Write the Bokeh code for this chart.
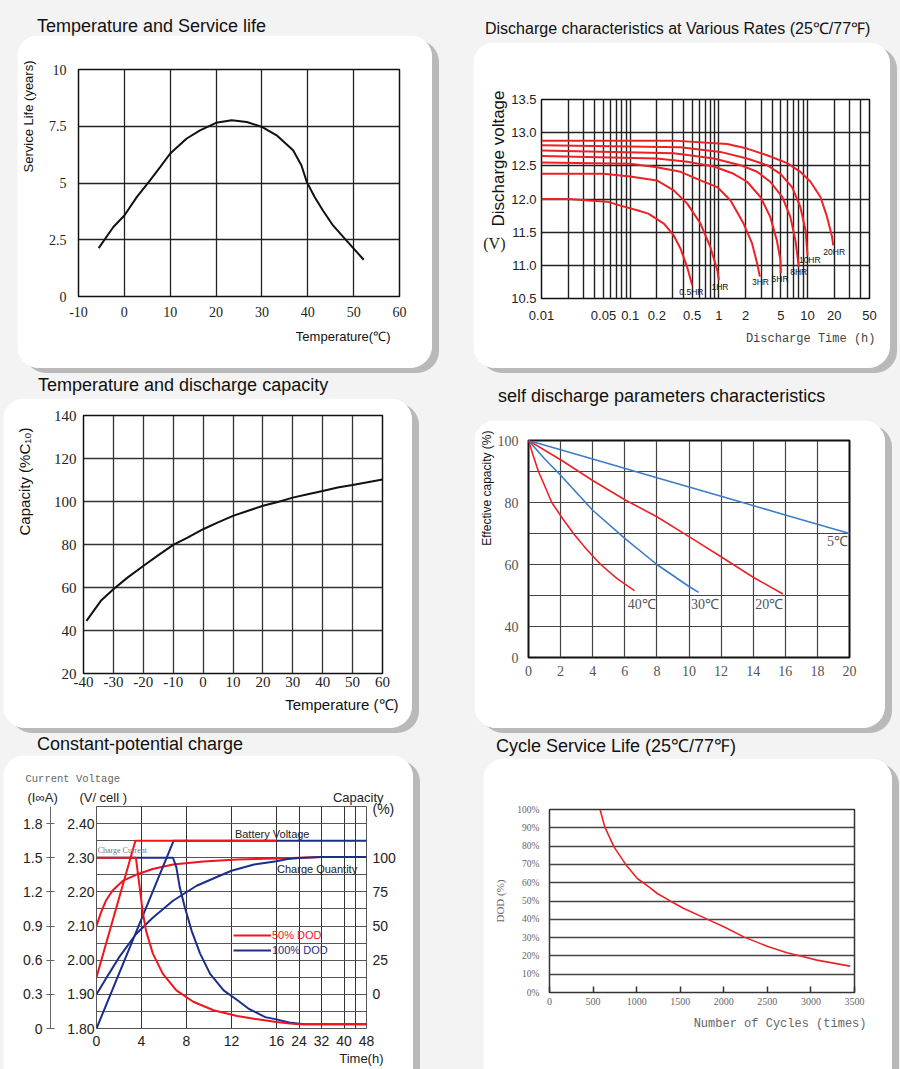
import numpy as np
from bokeh.plotting import figure
from bokeh.models import (Range1d, LinearAxis, FixedTicker, Title, Div, Legend, Label,
                          LegendItem, GlobalInlineStyleSheet, CustomJSTickFormatter,
                          PrintfTickFormatter)
from bokeh.layouts import row, column
from bokeh.embed import file_html
from bokeh.resources import INLINE
from bokeh.core.properties import value

SANS = "Liberation Sans"
SERIF = "Liberation Serif"
MONO = "Liberation Mono"
RED = "#ec2227"
RED5 = "#f0141e"
NAVY = "#1c2e8c"
LBLUE = "#3d7cc9"
NBSP = "\u00a0"

# ---------------- data ----------------
# 1. Temperature and service life
life_temp = [-5.6, -2.4, 0, 2.7, 5.3, 7.8, 10, 13.6, 16.5, 20, 23.4, 26.7, 30, 33.2, 36.8, 38.6, 39.8, 41.5, 43.3, 45.5, 48.4, 52.2]
life_years = [2.13, 3.06, 3.57, 4.38, 5.04, 5.7, 6.3, 6.96, 7.32, 7.65, 7.76, 7.69, 7.47, 7.1, 6.44, 5.78, 5.04, 4.38, 3.79, 3.13, 2.47, 1.62]
life_xticks = [-10, 0, 10, 20, 30, 40, 50, 60]
life_yticks = [0, 2.5, 5, 7.5, 10]

# 2. Discharge characteristics at various rates
rate_names = ["0.5HR", "1HR", "3HR", "5HR", "8HR", "10HR", "20HR"]
t_05 = [0.01, 0.02, 0.055, 0.078, 0.12, 0.16, 0.24, 0.31, 0.37, 0.44, 0.50]
v_05 = [12.0, 12.0, 11.96, 11.90, 11.83, 11.78, 11.63, 11.45, 11.25, 10.97, 10.70]
t_1 = [0.01, 0.05, 0.1, 0.2, 0.31, 0.44, 0.62, 0.8, 0.96, 1.0]
v_1 = [12.38, 12.38, 12.34, 12.28, 12.13, 11.93, 11.63, 11.28, 10.93, 10.78]
t_3 = [0.01, 0.1, 0.2, 0.37, 0.62, 0.96, 1.35, 1.9, 2.37, 2.7, 2.9]
v_3 = [12.55, 12.53, 12.48, 12.41, 12.28, 12.18, 11.98, 11.63, 11.33, 11.03, 10.83]
t_5 = [0.01, 0.2, 0.44, 0.88, 1.47, 2.08, 2.95, 3.8, 4.5, 4.95, 5.0]
v_5 = [12.65, 12.61, 12.56, 12.49, 12.38, 12.26, 12.03, 11.73, 11.38, 11.08, 10.88]
t_8 = [0.01, 0.31, 0.88, 1.75, 2.7, 3.8, 5.2, 6.4, 7.3, 7.8, 8.0]
v_8 = [12.73, 12.69, 12.61, 12.51, 12.41, 12.26, 12.03, 11.73, 11.38, 11.08, 10.98]
t_10 = [0.01, 0.37, 1.04, 2.08, 3.5, 4.95, 6.7, 8.3, 9.5, 9.9, 10.0]
v_10 = [12.81, 12.78, 12.71, 12.61, 12.51, 12.38, 12.18, 11.88, 11.53, 11.23, 11.15]
t_20 = [0.01, 0.31, 1.24, 2.08, 3.5, 5.9, 8.3, 10.8, 14.0, 16.6, 18.9, 19.5]
v_20 = [12.88, 12.88, 12.83, 12.76, 12.66, 12.54, 12.41, 12.26, 12.03, 11.73, 11.43, 11.3]
rate_label_t = [0.49, 1.03, 2.95, 4.9, 7.95, 10.6, 20.0]
rate_label_v = [10.6, 10.68, 10.75, 10.8, 10.9, 11.08, 11.2]
dis_xticks = [0.01, 0.05, 0.1, 0.2, 0.5, 1, 2, 5, 10, 20, 50]
dis_yticks = [10.5, 11.0, 11.5, 12.0, 12.5, 13.0, 13.5]
volt_unit_at = 11.33

# 3. Temperature and discharge capacity
cap_temp = [-39, -34.2, -30, -25.3, -19.9, -15.3, -10, -5.2, 0, 4.8, 10, 14.8, 20, 25, 30, 35, 40, 45, 50, 55, 60]
cap_pct = [44.5, 53.8, 59.2, 64.6, 70.1, 74.7, 79.8, 83.2, 87.1, 90.2, 93.3, 95.6, 98.0, 99.8, 101.8, 103.4, 104.9, 106.5, 107.7, 109.0, 110.2]
cap_xticks = [-40, -30, -20, -10, 0, 10, 20, 30, 40, 50, 60]
cap_yticks = [20, 40, 60, 80, 100, 120, 140]

# 4. Self discharge
sd5_t = [0, 4, 8, 12, 16, 20]
sd5_c = [100, 94, 88, 82, 76, 70]
sd20_t = [0, 2, 4, 6, 8, 10, 12, 14, 15.85]
sd20_c = [100, 93.8, 87.1, 80.9, 75.4, 69, 62.5, 55.9, 50.5]
sd30_t = [0, 1, 2, 4, 6, 8, 10, 10.6]
sd30_c = [100, 94.1, 88.8, 77.5, 68.4, 60, 52.9, 51]
sd40_t = [0, 0.3, 0.62, 1.0, 1.45, 2.1, 2.8, 3.6, 4.5, 5.5, 6.6]
sd40_c = [100, 95, 90, 85.5, 80, 75, 70, 65, 60, 55.5, 51.6]
sd_names = ["40℃", "30℃", "20℃", "5℃"]
sd_label_t = [7.06, 11.0, 15.0, 19.25]
sd_label_c = [47.2, 47.2, 47.2, 67.3]
sd_xticks = [0, 2, 4, 6, 8, 10, 12, 14, 16, 18, 20]
sd_yticks = [30, 40, 60, 80, 100]
sd_ytick_labels = ["0", "40", "60", "80", "100"]

# 5. Constant-potential charge (time in hours)
volt50_t = [0, 3.46, 16]
volt50_v = [1.95, 2.35, 2.35]
volt100_t = [0, 6.86, 48]
volt100_v = [1.80, 2.35, 2.35]
cur50_t = [0, 3.5, 3.8, 4.1, 4.4, 5.0, 5.9, 7.1, 8.6, 10.4, 12.5, 14, 16, 20, 24, 48]
cur50_a = [1.5, 1.5, 1.27, 1.03, 0.86, 0.66, 0.48, 0.335, 0.235, 0.16, 0.11, 0.085, 0.058, 0.045, 0.038, 0.038]
cur100_t = [0, 6.8, 7.1, 7.4, 7.85, 8.45, 9.2, 10.1, 11.3, 12.5, 13.5, 15, 16, 20.4, 25.8, 48]
cur100_a = [1.5, 1.5, 1.415, 1.24, 1.065, 0.86, 0.66, 0.48, 0.335, 0.25, 0.175, 0.10, 0.08, 0.053, 0.038, 0.038]
q50_t = [0, 0.4, 0.83, 1.43, 2.33, 3.5, 5.0, 6.8, 9.5, 12.5, 16, 24, 32, 48]
q50_p = [50, 60, 68.5, 76, 83, 87.5, 91.8, 95, 97.3, 98.7, 99.5, 100, 100.5, 100.5]
q100_t = [0, 1.1, 2.0, 3.5, 5.0, 6.8, 8.9, 11.0, 12.0, 14.0, 16, 20, 24, 32, 48]
q100_p = [0, 15, 27, 44, 56, 68.5, 79.5, 87, 90.5, 95, 97.5, 99, 99.8, 100.5, 100.5]
time_ticks_h = [0, 4, 8, 12, 16, 24, 32, 40, 48]
time_grid_h = [0, 4, 8, 12, 16, 24, 32, 40, 44, 48]
volt_ticks = [1.80, 1.90, 2.00, 2.10, 2.20, 2.30, 2.40]
cur_ticks = [0, 0.3, 0.6, 0.9, 1.2, 1.5, 1.8]
capq_ticks = [0, 25, 50, 75, 100]
capq_unit_at = 136

# 6. Cycle service life
cyc_n = [580, 634, 740, 874, 1008, 1141, 1237, 1389, 1542, 1809, 2000, 2229, 2496, 2725, 2916, 3069, 3450]
cyc_dod = [100, 90.5, 79.6, 70, 62.3, 57.7, 54.1, 49.9, 45.9, 40.1, 35.9, 30.4, 25.3, 21.7, 19.5, 17.7, 14.4]
cyc_xticks = [0, 500, 1000, 1500, 2000, 2500, 3000, 3500]
cyc_yticks = [0, 10, 20, 30, 40, 50, 60, 70, 80, 90, 100]

# ---------------- helpers ----------------
PLAIN = CustomJSTickFormatter(code="return tick.toString();")


def card(width, height, left, right, top, bottom, margin, radius="22px", **kw):
    style = {"border-radius": radius, "overflow": "hidden",
             "box-shadow": "7px 5px 0px 0px #b9b9b9"}
    p = figure(width=width, height=height, output_backend="svg", toolbar_location=None,
               min_border_left=left, min_border_right=right, min_border_top=top,
               min_border_bottom=bottom, margin=margin, styles=style, **kw)
    p.border_fill_color = "white"
    p.background_fill_color = "white"
    p.outline_line_color = "#111111"
    p.outline_line_width = 1.5
    return p


def style_axis(ax, font, size, color, standoff):
    ax.major_label_text_font = font
    ax.major_label_text_font_size = size
    ax.major_label_text_color = color
    ax.major_label_standoff = standoff
    ax.major_tick_out = 0
    ax.major_tick_in = 0
    ax.minor_tick_out = 0
    ax.minor_tick_in = 0
    ax.axis_line_color = None


def spacer_label(ax, size, standoff):
    ax.axis_label = " "
    ax.axis_label_text_font_size = size
    ax.axis_label_standoff = standoff


def title_div(text, pad_left, pad_top, height, size=18, width=450):
    return Div(text=(f'<div style="padding-left:{pad_left}px;padding-top:{pad_top}px;'
                     f'white-space:nowrap;line-height:20px;font-size:{size}px;">{text}</div>'),
               width=width, height=height, margin=(0, 0, 0, 0),
               styles={"font-family": "Liberation Sans, Arial, sans-serif",
                       "color": "#111", "overflow": "visible"})


def add_title(p, text, side, font, size, color, offset=0, standoff=4, align="right"):
    t = Title(text=text, align=align, offset=offset, standoff=standoff,
              text_font=font, text_font_size=size, text_color=color, text_font_style="normal")
    p.add_layout(t, side)
    return t


# ---------------- panel 1 ----------------
p1 = card(415, 333, 61, 33, 34, 72, (0, 18, 0, 17), x_range=Range1d(-10, 60), y_range=Range1d(0, 10))
p1.line(life_temp, life_years, line_color="#111", line_width=2)
p1.xaxis.ticker = FixedTicker(ticks=life_xticks)
p1.xaxis.formatter = PLAIN
p1.yaxis.ticker = FixedTicker(ticks=life_yticks)
p1.yaxis.formatter = PLAIN
style_axis(p1.xaxis[0], SERIF, "14px", "#222", 10)
style_axis(p1.yaxis[0], SERIF, "14px", "#222", 12)
spacer_label(p1.yaxis[0], "7px", 0)
for g in (p1.xgrid[0], p1.ygrid[0]):
    g.grid_line_color = "#222"
    g.grid_line_width = 1.3
add_title(p1, "Service Life (years)", "left", SANS, "13px", "#111", offset=-9, standoff=0)
add_title(p1, "Temperature(℃)", "below", SANS, "13px", "#111", offset=9, standoff=14)

# ---------------- panel 2 ----------------
p2 = card(417, 326, 68, 21, 57, 70, (0, 10, 0, 23), x_axis_type="log",
          x_range=Range1d(0.01, 50), y_range=Range1d(10.5, 13.5))
for tt, vv in [(t_05, v_05), (t_1, v_1), (t_3, v_3), (t_5, v_5), (t_8, v_8), (t_10, v_10), (t_20, v_20)]:
    p2.line(tt, vv, line_color=RED, line_width=2)
p2.text(x=rate_label_t, y=rate_label_v, text=rate_names, text_font=value(SANS),
        text_font_size="8.5px", text_color="#111", text_align="center", text_baseline="middle")
p2.xaxis.ticker = FixedTicker(ticks=dis_xticks)
p2.xaxis.formatter = PLAIN
p2.yaxis.ticker = FixedTicker(ticks=dis_yticks)
p2.yaxis.formatter = PrintfTickFormatter(format="%.1f")
style_axis(p2.xaxis[0], SANS, "13px", "#222", 12)
style_axis(p2.yaxis[0], SANS, "13px", "#222", 5)
grid_minor = [m * 10.0 ** k for k in range(-2, 2) for m in range(1, 10) if m * 10.0 ** k <= 50]
p2.xgrid.ticker = FixedTicker(ticks=grid_minor)
p2.ygrid.ticker = FixedTicker(ticks=dis_yticks)
for g in (p2.xgrid[0], p2.ygrid[0]):
    g.grid_line_color = "#222"
    g.grid_line_width = 1.4
add_title(p2, "Discharge voltage", "left", SANS, "17px", "#111", offset=-9, standoff=2)
add_title(p2, "Discharge Time (h)", "below", MONO, "12px", "#444", offset=-6, standoff=14)
v_axis = LinearAxis(ticker=FixedTicker(ticks=[volt_unit_at]),
                    formatter=CustomJSTickFormatter(code="return '(V)';"))
style_axis(v_axis, SERIF, "16px", "#222", -20)
p2.add_layout(v_axis, "left")

# ---------------- panel 3 ----------------
p3 = card(409, 330, 80, 30, 17, 55, (0, 38, 0, 3), x_range=Range1d(-40, 60), y_range=Range1d(20, 140))
p3.line(cap_temp, cap_pct, line_color="#111", line_width=2)
p3.xaxis.ticker = FixedTicker(ticks=cap_xticks)
p3.xaxis.formatter = PLAIN
p3.yaxis.ticker = FixedTicker(ticks=cap_yticks)
style_axis(p3.xaxis[0], SERIF, "15px", "#222", 3)
style_axis(p3.yaxis[0], SERIF, "15px", "#222", 7)
spacer_label(p3.yaxis[0], "12px", 0)
for g in (p3.xgrid[0], p3.ygrid[0]):
    g.grid_line_color = "#333"
    g.grid_line_width = 1.3
add_title(p3, "Capacity (%C₁₀)", "left", SANS, "15px", "#111", offset=12, standoff=2)
add_title(p3, "Temperature (℃)", "below", SANS, "15px", "#111", offset=-16, standoff=8)

# ---------------- panel 4 ----------------
p4 = card(411, 308, 54, 36, 20, 71, (0, 15, 0, 24), x_range=Range1d(0, 20), y_range=Range1d(30, 100))
p4.line(sd5_t, sd5_c, line_color=LBLUE, line_width=1.6)
p4.line(sd20_t, sd20_c, line_color=RED, line_width=1.6)
p4.line(sd30_t, sd30_c, line_color=LBLUE, line_width=1.6)
p4.line(sd40_t, sd40_c, line_color=RED, line_width=1.6)
p4.text(x=sd_label_t, y=sd_label_c, text=sd_names, text_font=value(SERIF), text_font_size="14px",
        text_color="#555", text_align="center", text_baseline="middle")
p4.xaxis.ticker = FixedTicker(ticks=sd_xticks)
p4.yaxis.ticker = FixedTicker(ticks=sd_yticks)
p4.yaxis.major_label_overrides = {int(k): v for k, v in zip(sd_yticks, sd_ytick_labels)}
p4.ygrid.ticker = FixedTicker(ticks=[30, 40, 50, 60, 70, 80, 90, 100])
style_axis(p4.xaxis[0], SERIF, "14px", "#555", 8)
style_axis(p4.yaxis[0], SERIF, "14px", "#555", 10)
for g in (p4.xgrid[0], p4.ygrid[0]):
    g.grid_line_color = "#444"
    g.grid_line_width = 1.2
p4.outline_line_width = 2
add_title(p4, "Effective capacity (%)", "left", SANS, "12px", "#111", offset=-10, standoff=2)


# ---------------- panel 5 ----------------
def brk(t):
    t = np.asarray(t, dtype=float)
    return np.where(t <= 16, t, 16 + (t - 16) / 4.0)


p5 = card(410, 314, 93, 47, 51, 41, (0, 37, 0, 3), radius="22px 22px 0 0",
          x_range=Range1d(0, 24), y_range=Range1d(1.80, 2.45))
p5.extra_y_ranges = {"cur": Range1d(0, 1.95), "cap": Range1d(-25, 137.5)}
p5.line(brk(q50_t), q50_p, y_range_name="cap", line_color=RED5, line_width=2)
p5.line(brk(q100_t), q100_p, y_range_name="cap", line_color=NAVY, line_width=2)
r_bv = p5.line(brk(volt100_t), volt100_v, line_color=NAVY, line_width=2)
r_rv = p5.line(brk(volt50_t), volt50_v, line_color=RED5, line_width=2)
p5.line(brk(cur100_t), cur100_a, y_range_name="cur", line_color=NAVY, line_width=2)
p5.line(brk(cur50_t), cur50_a, y_range_name="cur", line_color=RED5, line_width=2)

p5.xaxis.ticker = FixedTicker(ticks=[int(u) for u in brk(time_ticks_h)])
p5.xaxis.major_label_overrides = {int(u): str(h) for u, h in zip(brk(time_ticks_h), time_ticks_h)}
p5.xgrid.ticker = FixedTicker(ticks=[float(u) for u in brk(time_grid_h)])
p5.yaxis.ticker = FixedTicker(ticks=volt_ticks)
p5.yaxis.formatter = PrintfTickFormatter(format="%.2f")
p5.ygrid.ticker = FixedTicker(ticks=[round(1.80 + 0.05 * k, 2) for k in range(14)])
style_axis(p5.xaxis[0], SANS, "14px", "#222", 7)
style_axis(p5.yaxis[0], SANS, "14px", "#222", 2)
spacer_label(p5.yaxis[0], "10px", 0)
for g in (p5.xgrid[0], p5.ygrid[0]):
    g.grid_line_color = "#555"
    g.grid_line_width = 1
p5.xgrid[0].grid_line_color = "#333"
p5.outline_line_color = "#555"
p5.outline_line_width = 1

cur_axis = LinearAxis(y_range_name="cur", ticker=FixedTicker(ticks=cur_ticks))
cur_axis.formatter = CustomJSTickFormatter(code="return tick == 0 ? '0' : tick.toFixed(1);")
style_axis(cur_axis, SANS, "14px", "#222", 4)
cur_axis.axis_line_color = "#666"
cur_axis.axis_line_width = 1
cur_axis.major_tick_in = 4
cur_axis.major_tick_out = 4
cur_axis.major_tick_line_color = "#666"
p5.add_layout(cur_axis, "left")

cap_axis = LinearAxis(y_range_name="cap", ticker=FixedTicker(ticks=capq_ticks + [capq_unit_at]))
cap_axis.major_label_overrides = {capq_unit_at: "(%)"}
style_axis(cap_axis, SANS, "14px", "#222", 6)
p5.add_layout(cap_axis, "right")

hdr_gap1 = NBSP * 6
hdr_gap2 = NBSP * 57
add_title(p5, "(I∞A)" + hdr_gap1 + "(V/ cell )" + hdr_gap2 + "Capacity", "above", SANS, "13px", "#222",
          offset=-69, standoff=4, align="left")
add_title(p5, "Current Voltage", "above", MONO, "10.5px", "#666", offset=-71, standoff=2, align="left")
add_title(p5, "Time(h)", "below", SANS, "13px", "#222", offset=-17, standoff=0)

for txt, xu, yv, font, size, col in [
        ("Battery Voltage", 12.3, 2.37, SANS, "11px", "#222"),
        ("Charge Current", 0.1, 2.321, SERIF, "8px", "#777"),
        ("Charge Quantity", 16.05, 2.268, SANS, "11px", "#222")]:
    p5.add_layout(Label(x=xu, y=yv, text=txt, text_font=font, text_font_size=size, text_color=col,
                        text_align="left", text_baseline="middle"))

for lbl, rend, col, yloc in [("50% DOD", r_rv, RED5, 87), ("100% DOD", r_bv, NAVY, 72)]:
    lg = Legend(items=[LegendItem(label=lbl, renderers=[rend])], location=(137, yloc),
                background_fill_alpha=0, border_line_color=None, padding=0, margin=0, spacing=0,
                glyph_width=38, glyph_height=12, label_height=12, label_standoff=1,
                label_text_font=SANS, label_text_font_size="11px", label_text_color=col)
    p5.add_layout(lg, "center")

# ---------------- panel 6 ----------------
p6 = card(409, 311, 66, 38, 51, 77, (0, 8, 0, 33), radius="22px 22px 0 0",
          x_range=Range1d(0, 3500), y_range=Range1d(0, 100))
p6.line(cyc_n, cyc_dod, line_color=RED, line_width=1.6)
p6.xaxis.ticker = FixedTicker(ticks=cyc_xticks)
p6.yaxis.ticker = FixedTicker(ticks=cyc_yticks)
p6.yaxis.formatter = PrintfTickFormatter(format="%d%%")
style_axis(p6.xaxis[0], SERIF, "10px", "#666", 5)
style_axis(p6.yaxis[0], SERIF, "9.5px", "#666", 10)
p6.xaxis[0].major_tick_in = 6
p6.xaxis[0].major_tick_line_color = "#333"
p6.xaxis[0].major_tick_line_width = 1.5
p6.xgrid[0].grid_line_color = None
p6.ygrid[0].ticker = FixedTicker(ticks=cyc_yticks)
p6.ygrid[0].grid_line_color = "#444"
p6.ygrid[0].grid_line_width = 1.5
p6.outline_line_color = "#333"
p6.yaxis[0].axis_label = "DOD (%)"
p6.yaxis[0].axis_label_text_font = SERIF
p6.yaxis[0].axis_label_text_font_style = "normal"
p6.yaxis[0].axis_label_text_font_size = "11px"
p6.yaxis[0].axis_label_text_color = "#666"
p6.yaxis[0].axis_label_standoff = 8
add_title(p6, "Number of Cycles (times)", "below", MONO, "12px", "#666", offset=-12, standoff=14)

# ---------------- layout ----------------
cells = [
    column(title_div("Temperature and Service life", 37, 16, 35), p1, spacing=0),
    column(title_div("Discharge characteristics at Various Rates (25℃/77℉)", 35, 19, 42, size=16), p2, spacing=0),
    column(title_div("Temperature and discharge capacity", 38, 7, 30), p3, spacing=0),
    column(title_div("self discharge parameters characteristics", 48, 18, 52), p4, spacing=0),
    column(title_div("Constant-potential charge", 37, 6, 27), p5, spacing=0),
    column(title_div("Cycle Service Life (25℃/77℉)", 46, 8, 30), p6, spacing=0),
]
page = column(row(cells[0], cells[1], spacing=0), row(cells[2], cells[3], spacing=0),
              row(cells[4], cells[5], spacing=0), spacing=0,
              stylesheets=[GlobalInlineStyleSheet(css="body { background-color: #f3f3f3; }")])

open("out.html", "w").write(file_html(page, INLINE))
